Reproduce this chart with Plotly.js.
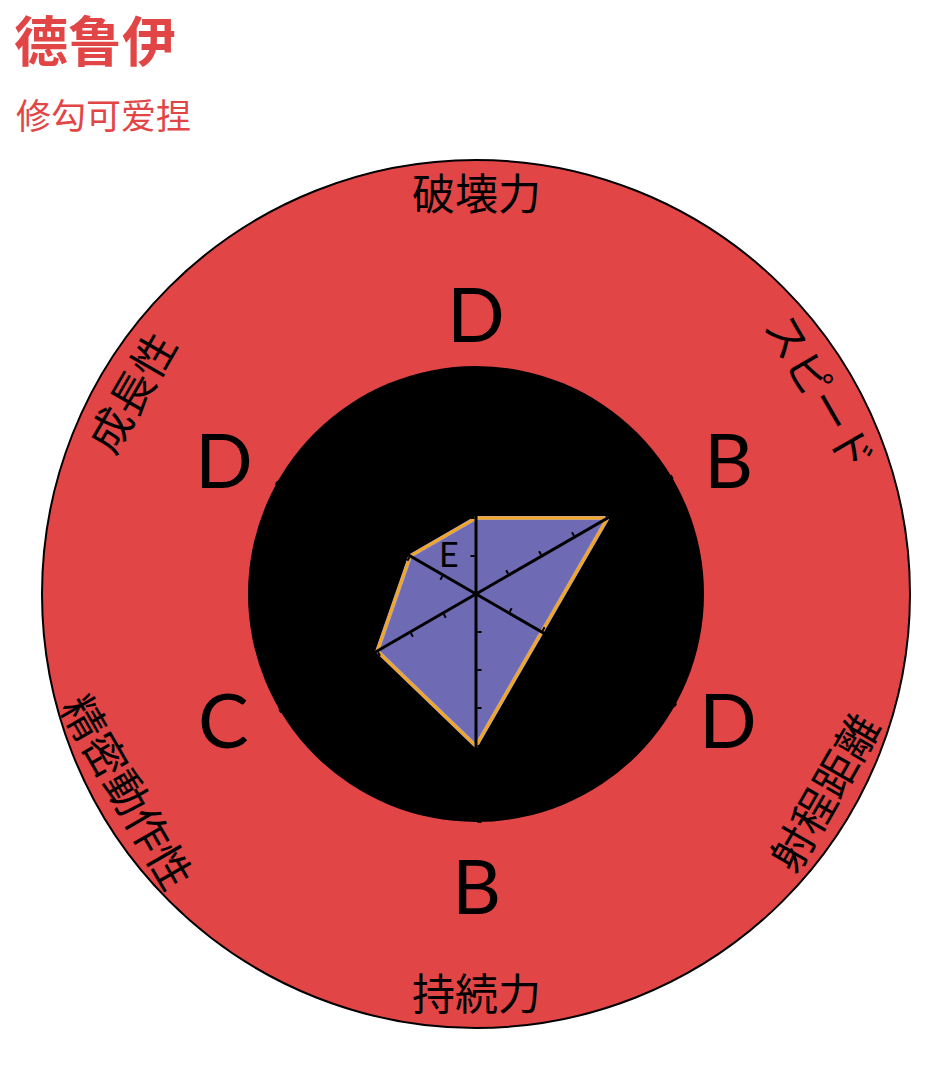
<!DOCTYPE html>
<html>
<head>
<meta charset="utf-8">
<script src="https://cdn.plot.ly/plotly-3.0.1.min.js"></script>
<style>
    html, body { margin: 0; padding: 0; background: #ffffff; }
    #chartDiv { width: 948px; height: 1068px; }
</style>
</head>
<body>
<div id="chartDiv"></div>
<script>
// data
const categories = ['破壊力', 'スピード', '射程距離', '持続力', '精密動作性', '成長性']
const grades = ['D', 'B', 'D', 'B', 'C', 'D']
const values = [2, 4, 2, 4, 3, 2]
const scaleVals = [1, 2, 3, 4, 5]
const scaleText = ['E', 'D', 'C', 'B', 'A']
const axisTicks = [1, 2, 3, 4, 5, 6]
const titleText = '德鲁伊'
const subtitleText = '修勾可爱捏'

// geometry / styles
const W = 948, H = 1068
const cx = 476, cy = 474          // center, y measured from bottom
const outerR = 434, innerR = 228, labelR = 400
const gradeR = 260                // grade letters hang just outside this circle
const gradeHalfW = 27, gradeHalfH = 26, gradeDrop = 10, gradeLift = 6
const red = '#e24545'
const cjkFont = '"Noto Sans CJK JP", "Noto Sans CJK SC", sans-serif'
const gradeFont = 'Lato, "Open Sans", sans-serif'

function domainOf(r) {
    return {
        x: [(cx - r) / W, (cx + r) / W],
        y: [(cy - r) / H, (cy + r) / H]
    }
}

let closedR = values.concat([values[0]])
let closedTheta = categories.concat([categories[0]])

let plotData = [
    { type: 'scatterpolar', subplot: 'polar', r: [], theta: [] },
    {
        type: 'scatterpolar', subplot: 'polar2',
        r: closedR, theta: closedTheta,
        mode: 'lines', fill: 'toself', fillcolor: '#6e6ab3',
        line: { color: '#aaa4d8', width: 4 }
    },
    {
        type: 'scatterpolar', subplot: 'polar2',
        r: closedR, theta: closedTheta,
        mode: 'lines',
        line: { color: '#f3a624', width: 3 }
    }
]

let radialStyle = {
    range: [0, 6],
    showgrid: false,
    showline: true, linecolor: '#000000', linewidth: 3,
    ticks: 'outside', ticklen: 4, tickwidth: 2, tickcolor: '#000000',
    side: 'counterclockwise'
}

let plotLayout = {
    width: W,
    height: H,
    margin: { l: 0, r: 0, t: 0, b: 0, pad: 0 },
    paper_bgcolor: '#ffffff',
    showlegend: false,
    title: {
        text: '<b>' + titleText + '</b>',
        x: 14 / W,
        xanchor: 'left',
        y: 1 - 24 / H,
        yanchor: 'top',
        font: { family: '"Noto Sans CJK SC", sans-serif', size: 54, color: red }
    },
    annotations: [{
        text: subtitleText,
        xref: 'paper', yref: 'paper',
        x: 14 / W, xanchor: 'left',
        y: 1 - 86 / H, yanchor: 'top',
        showarrow: false,
        font: { family: '"Noto Sans CJK SC", sans-serif', size: 35, color: red }
    }],
    polar: {
        domain: domainOf(outerR),
        bgcolor: red,
        angularaxis: {
            showline: true, linecolor: '#000000', linewidth: 2,
            showgrid: false, ticks: '', showticklabels: false
        },
        radialaxis: { visible: false }
    },
    polar2: {
        domain: domainOf(innerR),
        bgcolor: '#000000',
        angularaxis: {
            type: 'category',
            categoryarray: categories,
            rotation: 90,
            direction: 'clockwise',
            ticks: '',
            showticklabels: false,
            showline: false,
            showgrid: false
        },
        radialaxis: Object.assign({}, radialStyle, {
            angle: 90,
            tickmode: 'array', tickvals: scaleVals, ticktext: scaleText,
            tickfont: { family: gradeFont, size: 34, color: '#000000' },
            tickangle: 90
        })
    }
}

// one extra polar per remaining category, each only carrying its radial axis
for (let i = 1; i < categories.length; i++) {
    let key = 'polar' + (i + 2)
    plotData.push({ type: 'scatterpolar', subplot: key, r: [], theta: [] })
    plotLayout[key] = {
        domain: domainOf(innerR),
        bgcolor: 'rgba(0,0,0,0)',
        angularaxis: { visible: false },
        radialaxis: Object.assign({}, radialStyle, {
            angle: 90 - i * 60,
            tickmode: 'array', tickvals: axisTicks,
            showticklabels: false
        })
    }
}

categories.forEach((name, i) => {
    let a = (90 - i * 60) * Math.PI / 180
    let cos = Math.cos(a), sin = Math.sin(a)

    // grade letter: side letters pushed sideways, top/bottom ones pushed up/down
    let gx = gradeR * cos + (Math.abs(cos) > 0.1 ? Math.sign(cos) * gradeHalfW : 0)
    let gy = gradeR * sin + (Math.abs(sin) > 0.9 ? Math.sign(sin) * gradeHalfH - gradeDrop : 0) + gradeLift
    plotLayout.annotations.push({
        text: grades[i],
        xref: 'paper', yref: 'paper',
        x: (cx + gx) / W,
        y: (cy + gy) / H,
        xanchor: 'center', yanchor: 'middle',
        showarrow: false,
        font: { family: gradeFont, size: 76, color: '#000000' }
    })

    // category name in the red ring, turned along the circle
    let rot = (i * 60) % 180
    if (rot > 90) rot -= 180
    plotLayout.annotations.push({
        text: name,
        xref: 'paper', yref: 'paper',
        x: (cx + labelR * cos) / W,
        y: (cy + labelR * sin + 3) / H,
        xanchor: 'center', yanchor: 'middle',
        textangle: rot,
        showarrow: false,
        font: { family: cjkFont, size: 43, color: '#000000' }
    })
})

Plotly.newPlot('chartDiv', plotData, plotLayout, { staticPlot: true })
</script>
</body>
</html>
